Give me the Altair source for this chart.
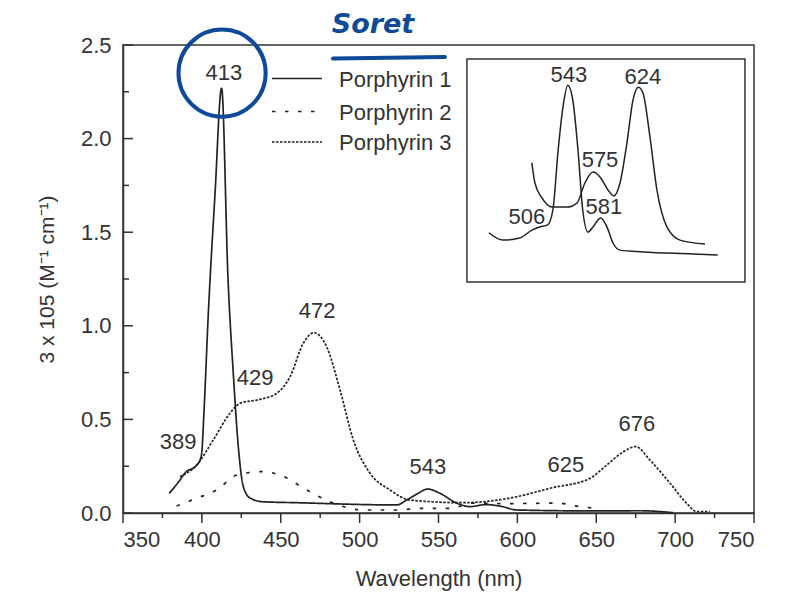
import altair as alt
import pandas as pd

# ---------------- data ----------------
series_names = ["Porphyrin 1", "Porphyrin 2", "Porphyrin 3"]

p1_nm = [379.3, 386.1, 389.3, 396.7, 398.8, 399.9, 401.3, 404.1, 408.3, 412.5, 416.6, 419.9,
         423.1, 426.3, 430.5, 438.7, 460.1, 523.5, 529.8, 536, 543.2, 551, 561.5, 570, 580,
         590, 599.6, 650.3, 677.7, 698.7]
p1_val = [0.105, 0.176, 0.214, 0.256, 0.283, 0.32, 0.534, 1.068, 1.7, 2.27, 1.245, 0.748,
          0.354, 0.14, 0.08, 0.06, 0.055, 0.043, 0.069, 0.1, 0.128, 0.105, 0.053, 0.034, 0.045,
          0.035, 0.016, 0.011, 0.012, 0.002]

p2_nm = [384, 396.7, 409.4, 422.1, 438.9, 449.5, 466.5, 481.2, 502.3, 523.5, 540.4, 557.3,
         571.9, 594, 625, 639.7, 650.5]
p2_val = [0.037, 0.079, 0.123, 0.203, 0.221, 0.203, 0.123, 0.06, 0.016, 0.016, 0.025, 0.025,
          0.053, 0.05, 0.053, 0.034, 0.025]

p3_nm = [386.1, 396.7, 407.2, 417.8, 424.2, 436.8, 447.4, 455.9, 464.3, 471, 479.1, 487.6,
         496, 506.6, 519.3, 531.9, 565.7, 578.4, 599.6, 620.7, 646, 656.6, 667.2, 675, 684,
         696.8, 707.3, 713.7, 722]
p3_val = [0.194, 0.256, 0.39, 0.533, 0.586, 0.607, 0.639, 0.728, 0.907, 0.963, 0.888, 0.657,
          0.39, 0.212, 0.123, 0.069, 0.055, 0.06, 0.087, 0.132, 0.185, 0.256, 0.327, 0.355,
          0.283, 0.159, 0.052, 0.007, 0.007]

peak_text = ["413", "389", "429", "472", "543", "625", "676"]
peak_nm = [414, 384.9, 433.7, 473, 543.3, 630.8, 675.8]
peak_val = [2.35, 0.379, 0.721, 1.079, 0.246, 0.256, 0.475]

# inset (relative absorbance, arbitrary units 0..1 inside the inset box)
insA_nm = [453, 469, 488, 502, 511, 520, 526, 532, 537.5, 543, 548.7, 554.6, 560, 566,
           571.7, 580.5, 587.6, 594.5, 602.5, 628.7, 685.7, 714]
insA_val = [0.221, 0.188, 0.197, 0.233, 0.247, 0.256, 0.323, 0.592, 0.785, 0.883, 0.816,
            0.592, 0.323, 0.224, 0.247, 0.287, 0.247, 0.175, 0.143, 0.135, 0.126, 0.121]
insB_nm = [502, 505.5, 513.5, 525, 542, 553.4, 562.5, 571.7, 579.7, 588.8, 595.6, 602.5,
           610.4, 617.3, 623.5, 628.7, 636.7, 644.6, 656, 670.9, 699.4]
insB_val = [0.534, 0.444, 0.377, 0.336, 0.336, 0.354, 0.444, 0.493, 0.471, 0.413, 0.386,
            0.444, 0.623, 0.816, 0.874, 0.848, 0.65, 0.413, 0.247, 0.188, 0.17]
ins_text = ["543", "624", "575", "581", "506"]
ins_nm = [544.3, 628.7, 579.7, 584.2, 496.4]
ins_val = [0.928, 0.919, 0.547, 0.336, 0.291]
ins_box_nm = [428, 745]
ins_box_val = [0, 1]

x_major = [350, 400, 450, 500, 550, 600, 650, 700, 750]
x_minor = [375, 425, 475, 525, 575, 625, 675, 725]
y_major = [0.0, 0.5, 1.0, 1.5, 2.0, 2.5]
y_minor = [0.25, 0.75, 1.25, 1.75, 2.25]

# hand-drawn annotation
circle_nm = [412.8]
circle_val = [2.35]

# ---------------- chart ----------------
W, H = 631, 468
FONT = "Liberation Sans"
INK = "#222222"
TXT = "#333333"
BLUE = "#0e4a98"
DASHES = [[1, 0], [3.5, 9.5], [2.5, 1.5]]

main_df = pd.concat([
    pd.DataFrame({"nm": p1_nm, "val": p1_val, "series": series_names[0]}),
    pd.DataFrame({"nm": p2_nm, "val": p2_val, "series": series_names[1]}),
    pd.DataFrame({"nm": p3_nm, "val": p3_val, "series": series_names[2]}),
])

xs = alt.Scale(domain=[350, 750], nice=False, zero=False)
ys = alt.Scale(domain=[0, 2.5], nice=False, zero=False)

x_axis = alt.Axis(values=x_major, ticks=False, grid=False, labelFontSize=22, labelPadding=16,
                  labelColor=TXT, labelFont=FONT, title="Wavelength (nm)", titleFontSize=22,
                  titleFont=FONT, titleFontWeight="normal", titleColor=TXT, titlePadding=18,
                  domainColor=TXT, domainWidth=1.5)
y_axis = alt.Axis(values=y_major, format=".1f", ticks=False, grid=False, labelFontSize=22,
                  labelPadding=12, labelColor=TXT, labelFont=FONT,
                  title="3 x 105 (M⁻¹ cm⁻¹)", titleFontSize=21, titleFont=FONT,
                  titleFontWeight="normal", titleColor=TXT, titlePadding=23,
                  domainColor=TXT, domainWidth=1.5)

lines = alt.Chart(main_df).mark_line(interpolate="monotone", strokeWidth=1.7, color=INK).encode(
    x=alt.X("nm:Q", scale=xs, axis=x_axis),
    y=alt.Y("val:Q", scale=ys, axis=y_axis),
    strokeDash=alt.StrokeDash("series:N", scale=alt.Scale(domain=series_names, range=DASHES),
                              legend=None),
    detail="series:N",
)

labels = alt.Chart(pd.DataFrame({"nm": peak_nm, "val": peak_val, "t": peak_text})).mark_text(
    fontSize=22, font=FONT, color=TXT).encode(
    x=alt.X("nm:Q", scale=xs), y=alt.Y("val:Q", scale=ys), text="t:N")

xt_major = alt.Chart(pd.DataFrame({"nm": x_major})).mark_rule(color=TXT, strokeWidth=1.5).encode(
    x=alt.X("nm:Q", scale=xs), y=alt.value(H), y2=alt.value(H + 10))
xt_minor = alt.Chart(pd.DataFrame({"nm": x_minor})).mark_rule(color=TXT, strokeWidth=1.5).encode(
    x=alt.X("nm:Q", scale=xs), y=alt.value(H), y2=alt.value(H + 5))
yt_major = alt.Chart(pd.DataFrame({"val": y_major})).mark_rule(color=TXT, strokeWidth=1.5).encode(
    y=alt.Y("val:Q", scale=ys), x=alt.value(0), x2=alt.value(10))
yt_minor = alt.Chart(pd.DataFrame({"val": y_minor})).mark_rule(color=TXT, strokeWidth=1.5).encode(
    y=alt.Y("val:Q", scale=ys), x=alt.value(0), x2=alt.value(6))

# legend (line samples + names), drawn inside the plot area
dummy = pd.DataFrame({"a": [0]})
legend_rows_y = [33.5, 66.5, 97]
legend_layers = []
for name, dash, ly in zip(series_names, DASHES, legend_rows_y):
    legend_layers.append(
        alt.Chart(dummy).mark_rule(color=INK, strokeWidth=1.7, strokeDash=dash).encode(
            x=alt.value(149), x2=alt.value(199), y=alt.value(ly)))
    legend_layers.append(
        alt.Chart(dummy).mark_text(fontSize=22, font=FONT, color=TXT, align="left",
                                   baseline="middle").encode(
            x=alt.value(216), y=alt.value(ly + 1), text=alt.value(name)))

circle = alt.Chart(pd.DataFrame({"nm": circle_nm, "val": circle_val})).mark_point(
    shape="circle", size=7600, strokeWidth=4, color=BLUE, filled=False, opacity=1).encode(
    x=alt.X("nm:Q", scale=xs), y=alt.Y("val:Q", scale=ys))

soret = alt.Chart(dummy).mark_text(fontSize=27, font="DejaVu Sans", fontStyle="italic",
                                   color=BLUE, fontWeight="bold").encode(
    x=alt.value(250), y=alt.value(-20), text=alt.value("Soret"))
underline = alt.Chart(dummy).mark_rule(color=BLUE, strokeWidth=4, strokeCap="round").encode(
    x=alt.value(210), x2=alt.value(322), y=alt.value(13.5), y2=alt.value(12))

main = alt.layer(lines, labels, xt_major, xt_minor, yt_major, yt_minor, *legend_layers,
                 circle, soret, underline)

# inset with its own scales, placed inside the plot area
ixs = alt.Scale(domain=[35.8, 755.3], nice=False, zero=False)
iys = alt.Scale(domain=[-1.036, 1.063], nice=False, zero=False)

ins_df = pd.concat([
    pd.DataFrame({"ix": insA_nm, "iy": insA_val, "c": "A"}),
    pd.DataFrame({"ix": insB_nm, "iy": insB_val, "c": "B"}),
])
box = alt.Chart(pd.DataFrame({"ix": [ins_box_nm[0]], "ix2": [ins_box_nm[1]],
                              "iy": [ins_box_val[0]], "iy2": [ins_box_val[1]]})).mark_rect(
    fill="white", stroke=TXT, strokeWidth=1.5).encode(
    x=alt.X("ix:Q", scale=ixs, axis=None), x2="ix2:Q",
    y=alt.Y("iy:Q", scale=iys, axis=None), y2="iy2:Q")
ins_lines = alt.Chart(ins_df).mark_line(interpolate="monotone", strokeWidth=1.5, color=INK).encode(
    x=alt.X("ix:Q", scale=ixs, axis=None), y=alt.Y("iy:Q", scale=iys, axis=None), detail="c:N")
ins_labels = alt.Chart(pd.DataFrame({"ix": ins_nm, "iy": ins_val, "t": ins_text})).mark_text(
    fontSize=22, font=FONT, color=TXT).encode(
    x=alt.X("ix:Q", scale=ixs, axis=None), y=alt.Y("iy:Q", scale=iys, axis=None), text="t:N")

inset = alt.layer(box, ins_lines, ins_labels)

chart = alt.layer(main, inset).resolve_scale(x="independent", y="independent").properties(
    width=W, height=H,
    autosize=alt.AutoSizeParams(type="none"),
    padding={"left": 115, "top": 37, "right": 32, "bottom": 78},
    background="white",
).configure_view(stroke=TXT, strokeWidth=1.5)

chart.save("out.html", embed_options={"renderer": "svg", "actions": False})
